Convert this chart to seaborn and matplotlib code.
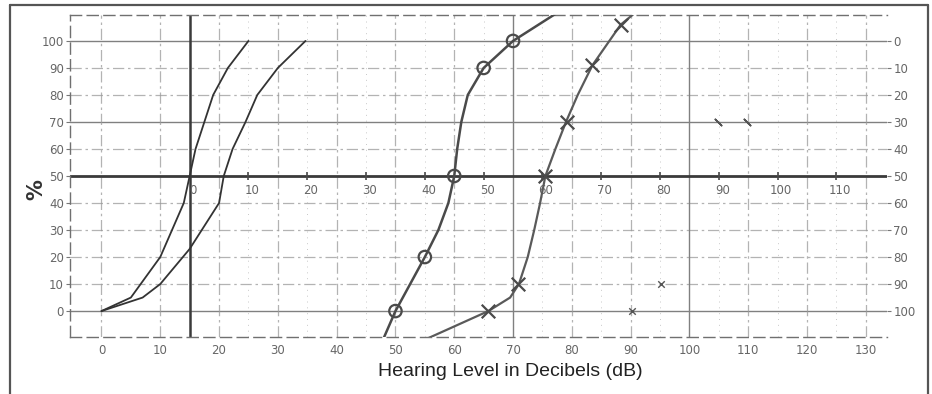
import numpy as np
import pandas as pd
import seaborn as sns
import matplotlib.pyplot as plt
from matplotlib.lines import Line2D

sns.set_theme(style="white")
plt.rcParams['font.family'] = ['DejaVu Sans']

# ---- data ----
curve_a_db = [0, 5, 10, 14, 15, 16, 19, 21.5, 25]
curve_a_pct = [0, 5, 20, 40, 50, 60, 80, 90, 100]
curve_b_db = [0, 7, 10, 15, 20, 20.8, 22.3, 24.5, 26.5, 30, 34.7]
curve_b_pct = [0, 5, 10, 23, 40, 50, 60, 70, 80, 90, 100]
curve_o_db = [48, 50, 55, 57.3, 59, 60, 60.5, 61.2, 62.3, 65, 70, 77.2]
curve_o_pct = [-10, 0, 20, 30, 40, 50, 60, 70, 80, 90, 100, 110]
marks_o_db = [50, 55, 60, 65, 70]
marks_o_pct = [0, 20, 50, 90, 100]
curve_x_db = [55.6, 65.8, 69.5, 71, 72.5, 73.6, 74.6, 75.5, 77.2, 79, 81, 83.5, 88.3, 90.8]
curve_x_pct = [-10, 0, 5, 10, 20, 30, 40, 50, 60, 70, 80, 91, 106, 110.5]
marks_x_db = [65.8, 70.8, 75.5, 79.1, 83.5, 88.3]
marks_x_pct = [0, 10, 50, 70, 91, 106]
stray_x_db = [90.3, 95.2]
stray_x_pct = [0, 10]
slash_db = [104.8, 109.8]
slash_pct = [70, 70]

bottom_ticks = list(range(0, 140, 10))
left_ticks = list(range(0, 110, 10))
right_labels = [100 - v for v in left_ticks]
inner_labels = list(range(0, 120, 10))
inner_offset = 15
solid_h = [0, 70, 100]
solid_v = [70, 100]
faint_v = list(range(25, 130, 10))

# ---- figure ----
fig = plt.figure(figsize=(9.32, 3.94), dpi=100)
ax = fig.add_axes([70/932, 1-337/394, (887-70)/932, (337-15)/394])
ax.set_xlim(-5.35, 133.6)
ax.set_ylim(-9.6, 109.6)

grid_c = '#9a9a9a'
for v in left_ticks:
    if v == 50:
        continue
    if v in solid_h:
        ax.axhline(v, color='#808080', lw=1.0, zorder=1)
    else:
        ax.axhline(v, color=grid_c, lw=0.9, ls=(0, (9, 3, 2, 3)), alpha=0.75, zorder=1)
for v in bottom_ticks:
    if v in solid_v:
        ax.axvline(v, color='#808080', lw=1.0, zorder=1)
    else:
        ax.axvline(v, color=grid_c, lw=0.9, ls=(0, (9, 3, 2, 3)), alpha=0.75, zorder=1)
for v in faint_v:
    ax.axvline(v, color='#b0b0b0', lw=0.7, ls=(0, (1, 5)), alpha=0.7, zorder=1)

# thick reference lines
ax.axhline(50, color='#3a3a3a', lw=2.0, zorder=2)
ax.axvline(inner_offset, color='#3a3a3a', lw=1.8, zorder=2)

# inner axis ticks & labels on the 50 % line
inner_pos = [v + inner_offset for v in inner_labels]
ax.plot(inner_pos[1:], [50]*len(inner_pos[1:]), ls='none', marker='|',
        ms=6, mew=1.2, color='#4a4a4a', zorder=3)
for lab, pos in zip(inner_labels, inner_pos):
    ax.text(pos + 0.6, 44.6, str(lab), ha='center', va='center',
            fontsize=8.5, color='#666666', zorder=3)

# curves
line_c = '#4a4a4a'
sns.lineplot(x=curve_a_db, y=curve_a_pct, sort=False, estimator=None,
             color='#333333', lw=1.3, ax=ax, zorder=4)
sns.lineplot(x=curve_b_db, y=curve_b_pct, sort=False, estimator=None,
             color='#333333', lw=1.3, ax=ax, zorder=4)
sns.lineplot(x=curve_o_db, y=curve_o_pct, sort=False, estimator=None,
             color=line_c, lw=1.8, ax=ax, zorder=4)
sns.lineplot(x=curve_x_db, y=curve_x_pct, sort=False, estimator=None,
             color='#5a5a5a', lw=1.6, ax=ax, zorder=4)

sns.scatterplot(x=marks_o_db, y=marks_o_pct, marker='o', s=80,
                facecolors='none', edgecolor=line_c, linewidth=1.6, ax=ax, zorder=5)
sns.scatterplot(x=marks_x_db, y=marks_x_pct, marker='x', s=95,
                color='#4a4a4a', linewidth=1.6, ax=ax, zorder=5)
sns.scatterplot(x=stray_x_db, y=stray_x_pct, marker='x', s=22,
                color='#555555', linewidth=1.0, ax=ax, zorder=5)
sns.scatterplot(x=slash_db, y=slash_pct, marker=(2, 2, 45), s=40,
                color='#555555', linewidth=1.2, ax=ax, zorder=5)

# axes styling
ax.set_xticks(bottom_ticks)
ax.set_xticklabels([str(v) for v in bottom_ticks])
ax.set_yticks(left_ticks)
ax.set_yticklabels([str(v) for v in left_ticks])
ax.tick_params(axis='both', labelsize=8.5, labelcolor='#666666', color='#777777',
               length=3, width=0.8, direction='out', pad=1.5)
ax.tick_params(axis='x', pad=2)
ax.set_xlabel('')
ax.set_ylabel('')
for side in ['top', 'left', 'bottom']:
    ax.spines[side].set_visible(True)
    ax.spines[side].set_color('#707070')
    ax.spines[side].set_linestyle((0, (8, 4)))
    ax.spines[side].set_linewidth(1.0)
ax.spines['right'].set_visible(False)

ax2 = ax.twinx()
ax2.set_ylim(ax.get_ylim())
ax2.set_yticks(left_ticks)
ax2.set_yticklabels([str(v) for v in right_labels])
ax2.tick_params(axis='y', labelsize=8.5, labelcolor='#666666', color='#777777',
                length=3, width=0.8, direction='out', pad=1.5)
ax2.grid(False)
for s in ax2.spines.values():
    s.set_visible(False)

# labels
fig.text(36/932, 1-190/394, '%', rotation=90, ha='center', va='center',
         fontsize=15, fontweight='bold', color='#333333')
fig.text(510/932, 1-372/394, 'Hearing Level in Decibels (dB)', ha='center', va='center',
         fontsize=14, color='#222222', family=['Liberation Sans', 'DejaVu Sans'])

# outer frame (left, top, right)
frame_kw = dict(color='#555555', lw=1.6, transform=fig.transFigure)
fig.add_artist(Line2D([10/932, 10/932], [0, 1-5/394], **frame_kw))
fig.add_artist(Line2D([10/932, 928/932], [1-5/394, 1-5/394], **frame_kw))
fig.add_artist(Line2D([928/932, 928/932], [0, 1-5/394], **frame_kw))

fig.savefig('out.png', dpi=100)
